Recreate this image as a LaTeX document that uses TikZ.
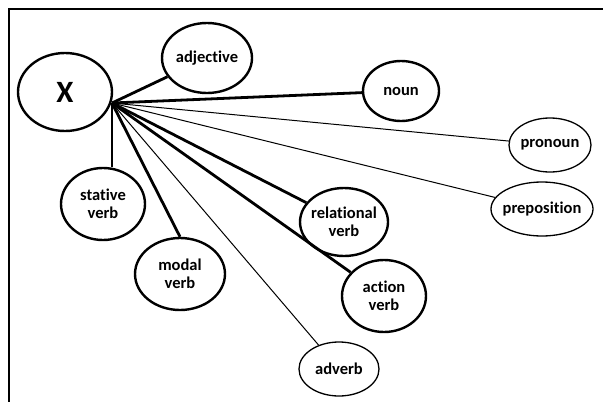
\documentclass[tikz,border=0pt]{standalone}
\usepackage{fontspec}
\setmainfont{Carlito}[Ligatures=NoCommon]
\usetikzlibrary{shapes.geometric}
\begin{document}
\begin{tikzpicture}[x=1pt,y=-1pt,
  bub/.style={draw, ellipse, line width=2.4pt, inner sep=0pt},
  thinbub/.style={bub, line width=1.3pt},
  lbl/.style={align=center, inner sep=0pt, font=\fontsize{16.5}{18}\selectfont\bfseries},
  heavy/.style={line width=2.8pt},
  light/.style={line width=1pt},
  frameline/.style={line width=2.8pt}]
\useasboundingbox (0,0) rectangle (603,402);
% frame
\coordinate (fr1) at (603,9);
\coordinate (fr2) at (9,9);
\coordinate (fr3) at (9,402);
\draw[frameline] (fr1) -- (fr2) -- (fr3);
% nodes
\node[bub, minimum width=94, minimum height=78, font=\fontsize{31}{31}\selectfont\bfseries] (x) at (65,92) {X};
\node[bub, minimum width=90, minimum height=70, label={[lbl]center:adjective}] (adj) at (207,58) {};
\node[bub, minimum width=76, minimum height=60, label={[lbl]center:noun}] (noun) at (401,91) {};
\node[thinbub, minimum width=82, minimum height=54, label={[lbl]center:pronoun}] (pron) at (550,145) {};
\node[thinbub, minimum width=102, minimum height=54, label={[lbl]center:preposition}] (prep) at (542,209) {};
\node[bub, minimum width=88, minimum height=68, label={[lbl]center:{relational\\verb}}] (rel) at (344,222) {};
\node[bub, minimum width=84, minimum height=72, label={[lbl]center:{action\\verb}}] (act) at (384,296) {};
\node[thinbub, minimum width=80, minimum height=54, label={[lbl]center:adverb}] (adv) at (339,369) {};
\node[bub, minimum width=84, minimum height=72, label={[lbl]center:{stative\\verb}}] (stat) at (103,204) {};
\node[bub, minimum width=90, minimum height=72, label={[lbl]center:{modal\\verb}}] (modal) at (180,274) {};
% hub
\coordinate (hub) at (112,103);
% connectors
\draw[heavy] (hub) -- (adj);
\draw[heavy] (hub) -- (noun);
\draw[light] (hub) -- (pron);
\draw[light] (hub) -- (prep);
\draw[heavy] (hub) -- (rel);
\draw[heavy] (hub) -- (act);
\draw[light] (hub) -- (adv);
\draw[heavy] (hub) -- (hub |- stat.north);
\draw[heavy] (hub) -- (modal.north);
\end{tikzpicture}
\end{document}
